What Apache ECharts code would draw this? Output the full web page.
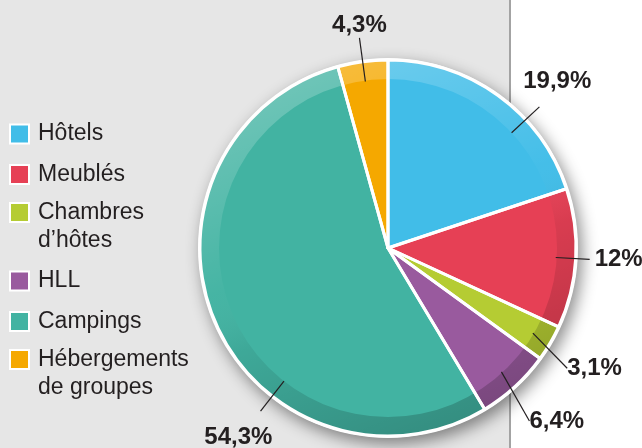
<!DOCTYPE html>
<html>
<head>
<meta charset="utf-8">
<script src="https://cdn.jsdelivr.net/npm/echarts@6/dist/echarts.min.js"></script>
<style>
  html, body { margin: 0; padding: 0; background: #fff; }
  #main { width: 642px; height: 448px; }
</style>
</head>
<body>
<div id="main"></div>
<script>
const categories = ['Hôtels', 'Meublés', 'Chambres\nd’hôtes', 'HLL', 'Campings', 'Hébergements\nde groupes']
const shares = [19.9, 12, 3.1, 6.4, 54.3, 4.3]
const colors = ['#41bde8', '#e64055', '#b5cc33', '#995a9e', '#42b3a2', '#f5a800']

const center = [388, 248]
const font = '"Liberation Sans", Arial, Helvetica, sans-serif'

let myChart = echarts.init(document.getElementById('main'))

let slices = categories.map((name, i) => ({name: name, value: shares[i]}))

// legend squares are drawn as rich text so they line up with the first line
let rich = {
  sp: {width: 10},
  ind: {width: 27},
  t: {fontSize: 23, lineHeight: 28, color: '#231f20', fontFamily: font}
}
colors.forEach((c, i) => {
  rich['c' + i] = {width: 17, height: 17, backgroundColor: c, borderColor: '#fff', borderWidth: 2}
})

// hand nudges for the value labels (dx, dy), and the angle (deg, clockwise from top)
// of the guide line where the original does not use the slice middle
let nudge = {0: [12, -3], 2: [0, 18], 3: [0, 24], 4: [75, 110], 5: [31, -22]}
let guideAngle = {0: 47, 4: 218}

function guidePoints(deg) {
  let a = deg * Math.PI / 180
  let dx = Math.sin(a), dy = -Math.cos(a)
  let p1 = [center[0] + dx * 169, center[1] + dy * 169]
  let p2 = [center[0] + dx * 207, center[1] + dy * 207]
  return [p1, p2, p2]
}

let option = {
  animation: false,
  color: colors,
  graphic: [
    {type: 'rect', z: -10, shape: {x: 0, y: 0, width: 510, height: 448}, style: {fill: '#e6e6e6'}},
    {type: 'rect', z: -10, shape: {x: 509, y: 0, width: 2, height: 448}, style: {fill: '#a3a3a3'}}
  ],
  legend: {
    orient: 'vertical',
    left: 1,
    top: 115,
    icon: 'none',
    itemWidth: 0,
    itemHeight: 28,
    itemGap: 15,
    selectedMode: false,
    data: categories,
    formatter: function (name) {
      let i = categories.indexOf(name)
      let lines = name.split('\n')
      let s = '{c' + i + '|}{sp|}{t|' + lines[0] + '}'
      lines.slice(1).forEach(l => { s += '\n{ind|}{t|' + l + '}' })
      return s
    },
    textStyle: {fontFamily: font, rich: rich}
  },
  series: [
    {
      // white disc with drop shadow under the pie
      type: 'pie',
      silent: true,
      center: center,
      radius: [0, 190],
      label: {show: false},
      data: [{value: 1, name: '', itemStyle: {color: '#fff', shadowBlur: 16, shadowColor: 'rgba(0,0,0,0.45)', shadowOffsetX: 4, shadowOffsetY: 6}}]
    },
    {
      type: 'pie',
      silent: true,
      center: center,
      radius: [0, 188],
      label: {show: false},
      data: slices
    },
    {
      // bevelled outer band
      type: 'pie',
      silent: true,
      center: center,
      radius: [169, 188],
      label: {show: false},
      data: [{value: 1, name: '', itemStyle: {
        color: new echarts.graphic.LinearGradient(0.3, 0, 0.7, 1, [
          {offset: 0, color: 'rgba(255,255,255,0.25)'},
          {offset: 0.45, color: 'rgba(255,255,255,0.02)'},
          {offset: 0.6, color: 'rgba(0,0,0,0.06)'},
          {offset: 1, color: 'rgba(0,0,0,0.22)'}
        ])
      }}]
    },
    {
      // white separators and rim
      type: 'pie',
      silent: true,
      center: center,
      radius: [0, 188],
      label: {show: false},
      itemStyle: {color: 'rgba(0,0,0,0)', borderColor: '#fff', borderWidth: 3},
      data: slices
    },
    {
      // value labels, lines start at the inner edge of the band
      type: 'pie',
      silent: true,
      z: 5,
      center: center,
      radius: [0, 168],
      avoidLabelOverlap: false,
      itemStyle: {color: 'rgba(0,0,0,0)'},
      label: {
        show: true,
        position: 'outside',
        fontFamily: font,
        fontSize: 24,
        fontWeight: 'bold',
        color: '#231f20',
        formatter: p => String(p.value).replace('.', ',') + '%'
      },
      labelLine: {show: true, length: 34, length2: 0, lineStyle: {color: '#231f20', width: 1.2}},
      labelLayout: function (params) {
        let n = nudge[params.dataIndex]
        if (!n) return {}
        let r = params.labelRect
        let out = {
          x: r.x + r.width / 2 + n[0],
          y: r.y + r.height / 2 + n[1],
          align: 'center',
          verticalAlign: 'middle'
        }
        if (guideAngle[params.dataIndex] != null) {
          out.labelLinePoints = guidePoints(guideAngle[params.dataIndex])
        }
        return out
      },
      data: slices
    }
  ]
}

myChart.setOption(option)
</script>
</body>
</html>
